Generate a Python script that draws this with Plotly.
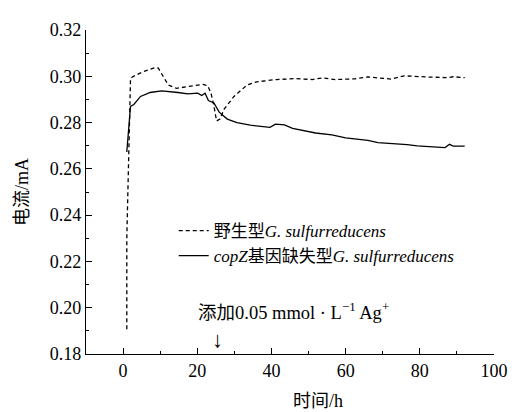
import plotly.graph_objects as go

# Wild type G. sulfurreducens (dashed)
wt_x = [1.0, 1.0, 2.0, 2.5, 5.1, 8.7, 9.5, 10.9, 12.2, 14.4, 18.4, 21.5, 22.8, 23.7, 24.5,
        25.2, 26.1, 27.2, 29.9, 33.4, 36.0, 41.3, 46.6, 51.0, 53.7, 57.2, 62.5, 66.0,
        72.2, 75.8, 82.0, 87.3, 89.0, 92.1]
wt_y = [0.1907, 0.2300, 0.2990, 0.2997, 0.3018, 0.3038, 0.3035, 0.2997, 0.2962, 0.2948,
        0.2958, 0.2965, 0.2960, 0.2927, 0.2871, 0.2807, 0.2815, 0.2857, 0.2913, 0.2962,
        0.2976, 0.2986, 0.2990, 0.2986, 0.2993, 0.2986, 0.2989, 0.2997, 0.2988, 0.3002,
        0.2997, 0.2994, 0.2998, 0.2994]

# copZ deletion mutant (solid)
mu_x = [1.0, 2.0, 2.9, 4.7, 7.3, 10.4, 14.8, 17.5, 20.1, 21.2, 22.1, 23.0, 24.5, 25.9,
        28.1, 30.7, 34.3, 39.6, 41.1, 43.5, 45.7, 49.3, 51.9, 56.3, 60.0, 66.0, 68.7,
        76.6, 79.3, 86.8, 88.0, 89.0, 92.1]
mu_y = [0.2673, 0.2870, 0.2878, 0.2913, 0.2930, 0.2937, 0.2930, 0.2924, 0.2927, 0.2917,
        0.2927, 0.2895, 0.2885, 0.2845, 0.2815, 0.2800, 0.2789, 0.2779, 0.2793, 0.2790,
        0.2775, 0.2765, 0.2755, 0.2747, 0.2734, 0.2723, 0.2713, 0.2705, 0.2699, 0.2692,
        0.2706, 0.2698, 0.2698]

x_ticks = [0, 20, 40, 60, 80, 100]
y_ticks = [0.18, 0.20, 0.22, 0.24, 0.26, 0.28, 0.30, 0.32]

FONT = "'Liberation Serif', 'Times New Roman', 'Noto Sans CJK SC', serif"

fig = go.Figure()
fig.add_trace(go.Scatter(x=wt_x, y=wt_y, mode="lines",
                         line=dict(color="black", width=1.3, dash="4px,3px"),
                         name="野生型<i>G. sulfurreducens</i>"))
fig.add_trace(go.Scatter(x=mu_x, y=mu_y, mode="lines",
                         line=dict(color="black", width=1.3),
                         name="<i>copZ</i>基因缺失型<i>G. sulfurreducens</i>"))

axis_common = dict(showline=True, linecolor="black", linewidth=1.2, ticks="inside",
                   ticklen=6, tickcolor="black", tickwidth=1.2, showgrid=False,
                   zeroline=False, mirror=False,
                   tickfont=dict(family=FONT, size=18, color="black"))

fig.update_xaxes(range=[-10, 100], tickvals=x_ticks, ticktext=[str(v) for v in x_ticks],
                 minor=dict(ticks="inside", ticklen=3, dtick=10, tick0=0,
                            tickcolor="black", tickwidth=1.2),
                 **axis_common)
fig.update_yaxes(range=[0.18, 0.32], tickvals=y_ticks,
                 ticktext=[f"{v:.2f}" for v in y_ticks],
                 minor=dict(ticks="inside", ticklen=3, dtick=0.01, tick0=0.18,
                            tickcolor="black", tickwidth=1.2),
                 title=dict(text="电流/mA", font=dict(family=FONT, size=18, color="black"),
                            standoff=16),
                 **axis_common)

fig.add_annotation(x=46, y=0.1985, xref="x", yref="y", showarrow=False,
                   text="添加0.05 mmol · L<sup>−1</sup> Ag<sup>+</sup>",
                   font=dict(family=FONT, size=18.5, color="black"))
fig.add_annotation(x=25.4, y=0.1863, xref="x", yref="y", showarrow=False,
                   text="↓", font=dict(family=FONT, size=22, color="black"))
fig.add_annotation(x=0.569, y=-0.145, xref="paper", yref="paper", showarrow=False,
                   text="时间/h", yanchor="middle",
                   font=dict(family=FONT, size=18, color="black"))

fig.update_layout(
    width=512, height=404,
    margin=dict(l=78, r=19, t=14, b=58),
    plot_bgcolor="white", paper_bgcolor="white",
    font=dict(family=FONT, size=17, color="black"),
    legend=dict(x=0.215, y=0.435, xanchor="left", yanchor="top",
                bgcolor="rgba(0,0,0,0)", tracegroupgap=0,
                font=dict(family=FONT, size=17, color="black")),
)

fig.write_html("out.html")
